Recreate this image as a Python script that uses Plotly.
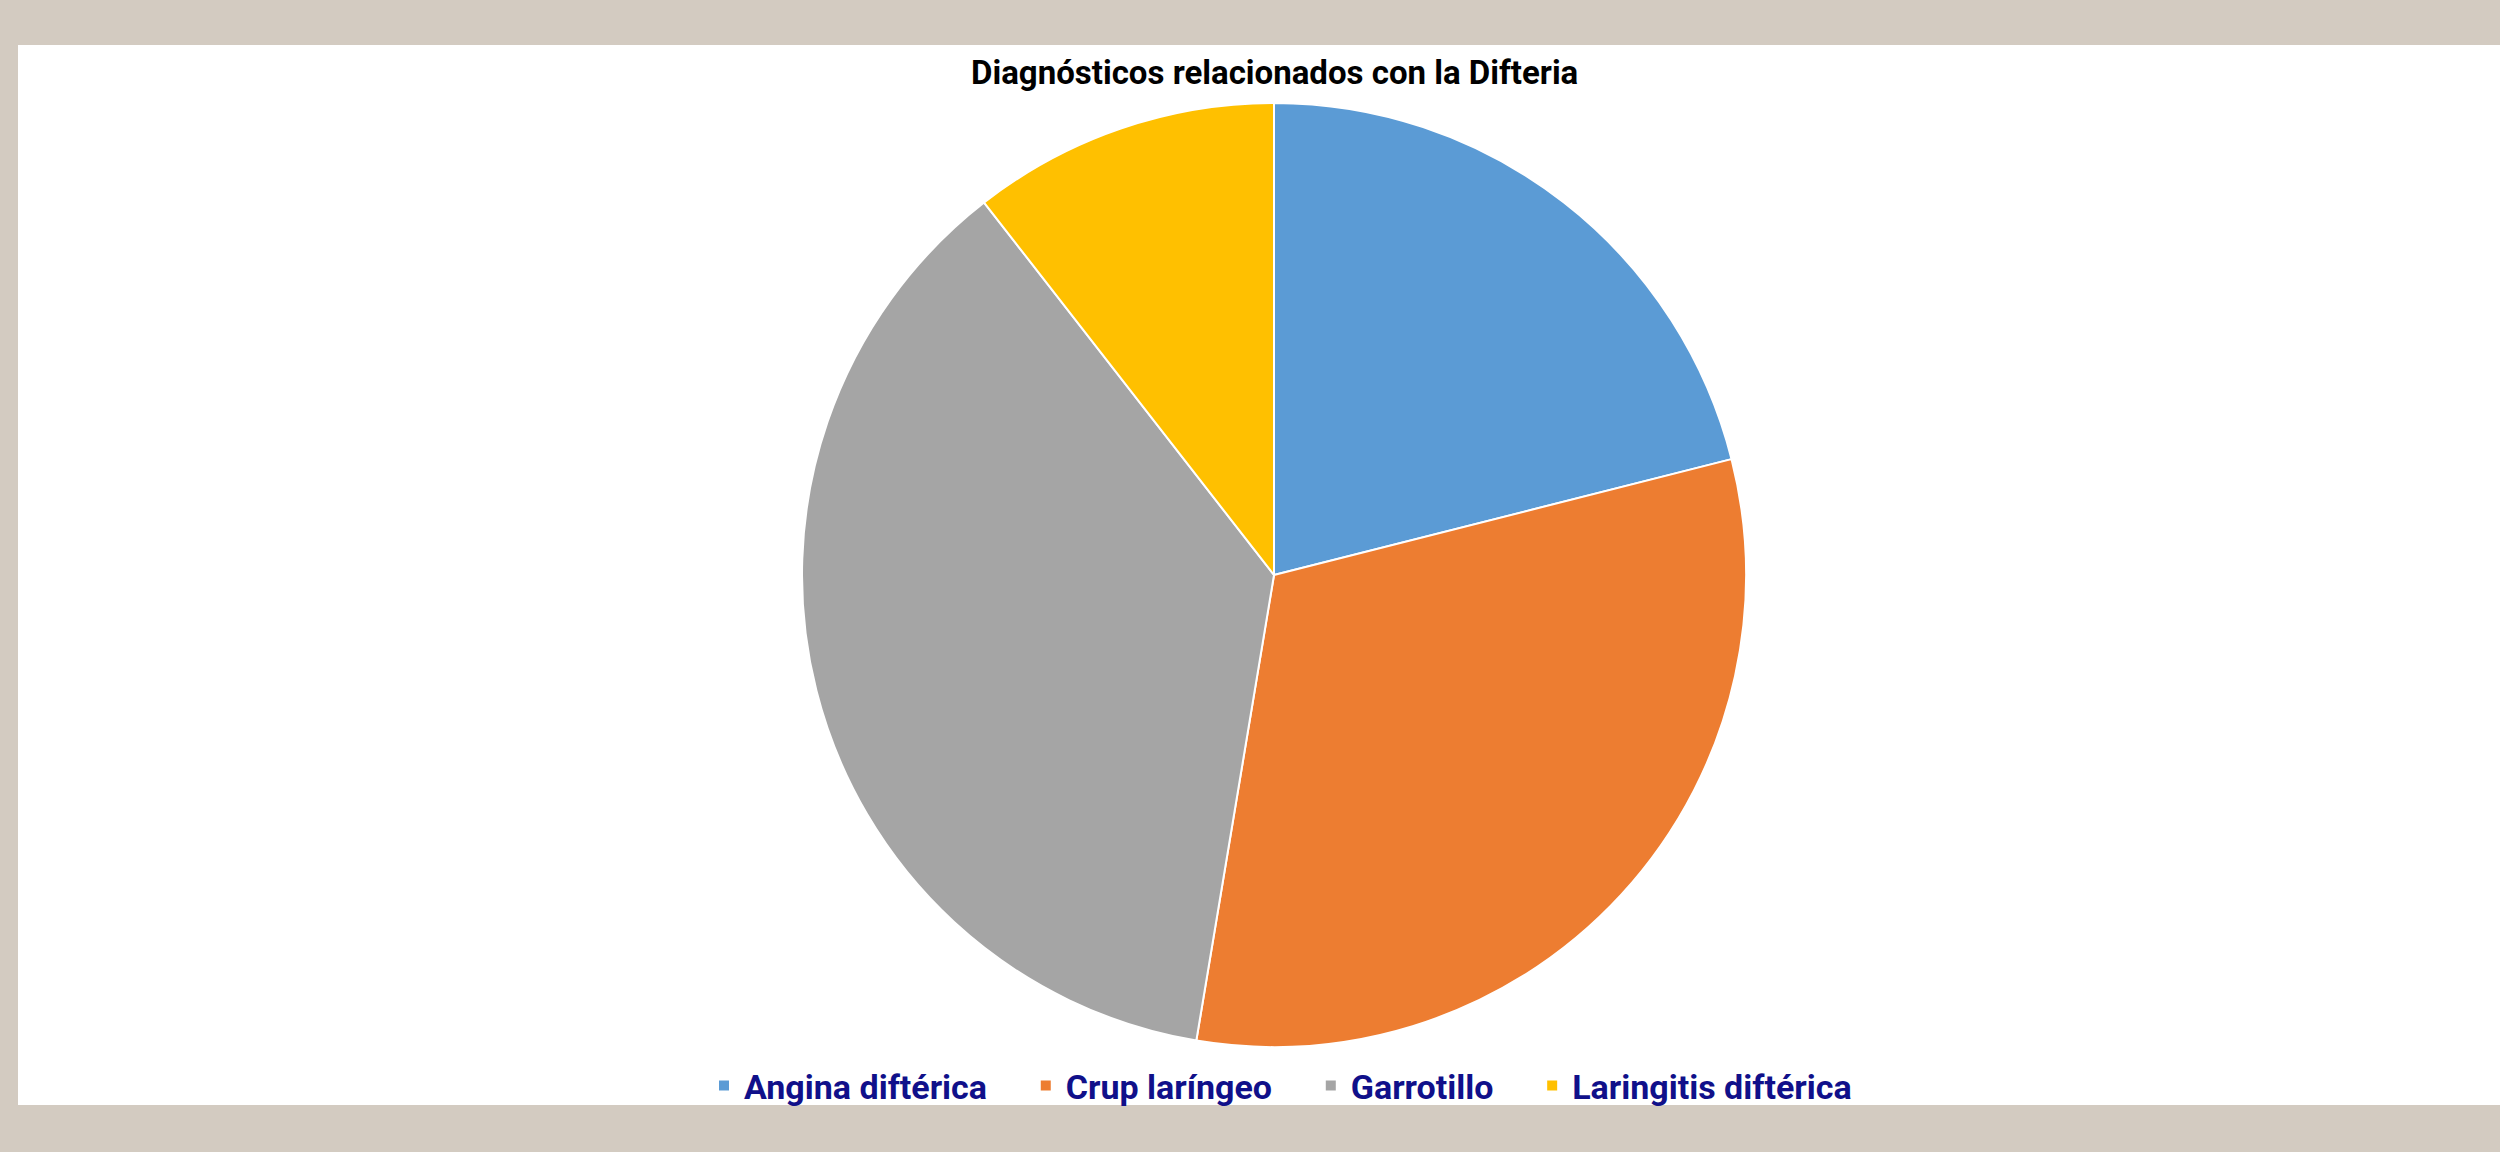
import plotly.graph_objects as go

labels = ["Angina diftérica", "Crup laríngeo", "Garrotillo", "Laringitis diftérica"]
values = [20, 30, 35, 10]
colors = ["#5B9BD5", "#ED7D31", "#A5A5A5", "#FFC000"]
title_text = "Diagnósticos relacionados con la Difteria"

W, H = 2500, 1152
cx, cy, r = 1274, 575, 472

legend_labels = ["<b>" + l + "</b>    " for l in labels]

fig = go.Figure(go.Pie(
    labels=legend_labels, values=values, sort=False, direction="clockwise", rotation=0,
    marker=dict(colors=colors, line=dict(color="white", width=2)),
    textinfo="none", hoverinfo="label+value+percent",
    domain=dict(x=[(cx - r) / W, (cx + r) / W], y=[(H - cy - r) / H, (H - cy + r) / H]),
))

fig.update_layout(
    width=W, height=H,
    margin=dict(l=0, r=0, t=0, b=0),
    paper_bgcolor="#d3cbc1",
    plot_bgcolor="white",
    showlegend=True,
    legend=dict(
        orientation="h", x=0.519, xanchor="center", y=1 - 1086 / H, yanchor="middle",
        font=dict(family="Roboto, sans-serif", size=34, color="#10108a"),
        bgcolor="rgba(0,0,0,0)",
    ),
    shapes=[dict(type="rect", xref="paper", yref="paper", x0=18 / W, x1=1.0,
                 y0=1 - 1105 / H, y1=1 - 45 / H, fillcolor="white", line=dict(width=0), layer="below")],
    annotations=[dict(text="<b>" + title_text + "</b>", x=cx / W, y=1 - 72 / H, xref="paper", yref="paper",
                      showarrow=False, xanchor="center", yanchor="middle",
                      font=dict(family="Roboto, sans-serif", size=33, color="black"))],
)

fig.write_html("out.html", config={"displayModeBar": False},
               post_script="document.body.style.margin='0';document.body.style.overflow='hidden';")
